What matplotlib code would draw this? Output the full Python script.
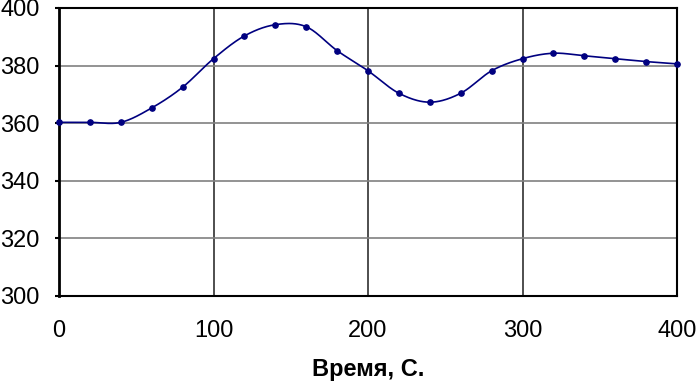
import numpy as np
import matplotlib.pyplot as plt

t = [0, 20, 40, 60, 80, 100, 120, 140, 160, 180, 200,
     220, 240, 260, 280, 300, 320, 340, 360, 380, 400]
temp = [360.3, 360.3, 360.3, 365.3, 372.5, 382.4, 390.3, 394.2, 393.5, 385.2, 378.2,
        370.4, 367.3, 370.4, 378.2, 382.4, 384.3, 383.4, 382.4, 381.4, 380.6]
xticks = [0, 100, 200, 300, 400]
yticks = [300, 320, 340, 360, 380, 400]


def excel_smooth(x, y, n=30):
    # Bezier segments like Excel's "smoothed line"
    x = np.asarray(x, float)
    y = np.asarray(y, float)
    px = np.concatenate([[x[0]], x, [x[-1]]])
    py = np.concatenate([[y[0]], y, [y[-1]]])
    xs, ys = [], []
    s = np.linspace(0, 1, n)
    for i in range(len(x) - 1):
        p0 = np.array([px[i + 1], py[i + 1]])
        p3 = np.array([px[i + 2], py[i + 2]])
        c1 = p0 + (np.array([px[i + 2], py[i + 2]]) - np.array([px[i], py[i]])) / 6
        c2 = p3 - (np.array([px[i + 3], py[i + 3]]) - np.array([px[i + 1], py[i + 1]])) / 6
        b = ((1 - s) ** 3)[:, None] * p0 + (3 * (1 - s) ** 2 * s)[:, None] * c1 \
            + (3 * (1 - s) * s ** 2)[:, None] * c2 + (s ** 3)[:, None] * p3
        xs.append(b[:, 0])
        ys.append(b[:, 1])
    return np.concatenate(xs), np.concatenate(ys)


plt.rcParams['font.family'] = ['Liberation Sans', 'DejaVu Sans']

fig = plt.figure(figsize=(6.96, 3.88), dpi=100)
ax = fig.add_axes([59 / 696, 1 - 296 / 388, 618 / 696, 288 / 388])

sx, sy = excel_smooth(t, temp)
ax.plot(sx, sy, color='#000080', lw=1.2, zorder=3)
ax.plot(t, temp, 'o', color='#000080', ms=3.8, zorder=4, clip_on=False)

ax.set_xlim(0, 400)
ax.set_ylim(300, 400)
ax.set_xticks(xticks)
ax.set_yticks(yticks)

for v in [100, 200, 300]:
    ax.axvline(v, color='#303030', lw=1.2, zorder=1)
for v in [320, 340, 360, 380]:
    ax.axhline(v, color='#808080', lw=1.2, zorder=1)

ax.spines['left'].set_linewidth(2)
ax.spines['bottom'].set_linewidth(1.5)
ax.spines['top'].set_linewidth(1.5)
ax.spines['right'].set_linewidth(1.5)
for sp in ax.spines.values():
    sp.set_color('black')

ax.tick_params(axis='y', direction='out', length=3, width=1.5, pad=11, labelsize=17)
ax.tick_params(axis='x', length=0, pad=17, labelsize=17)

ax.set_xlabel('Время, С.', fontsize=17, fontweight='bold', labelpad=12)

fig.savefig('out.png', dpi=100)
